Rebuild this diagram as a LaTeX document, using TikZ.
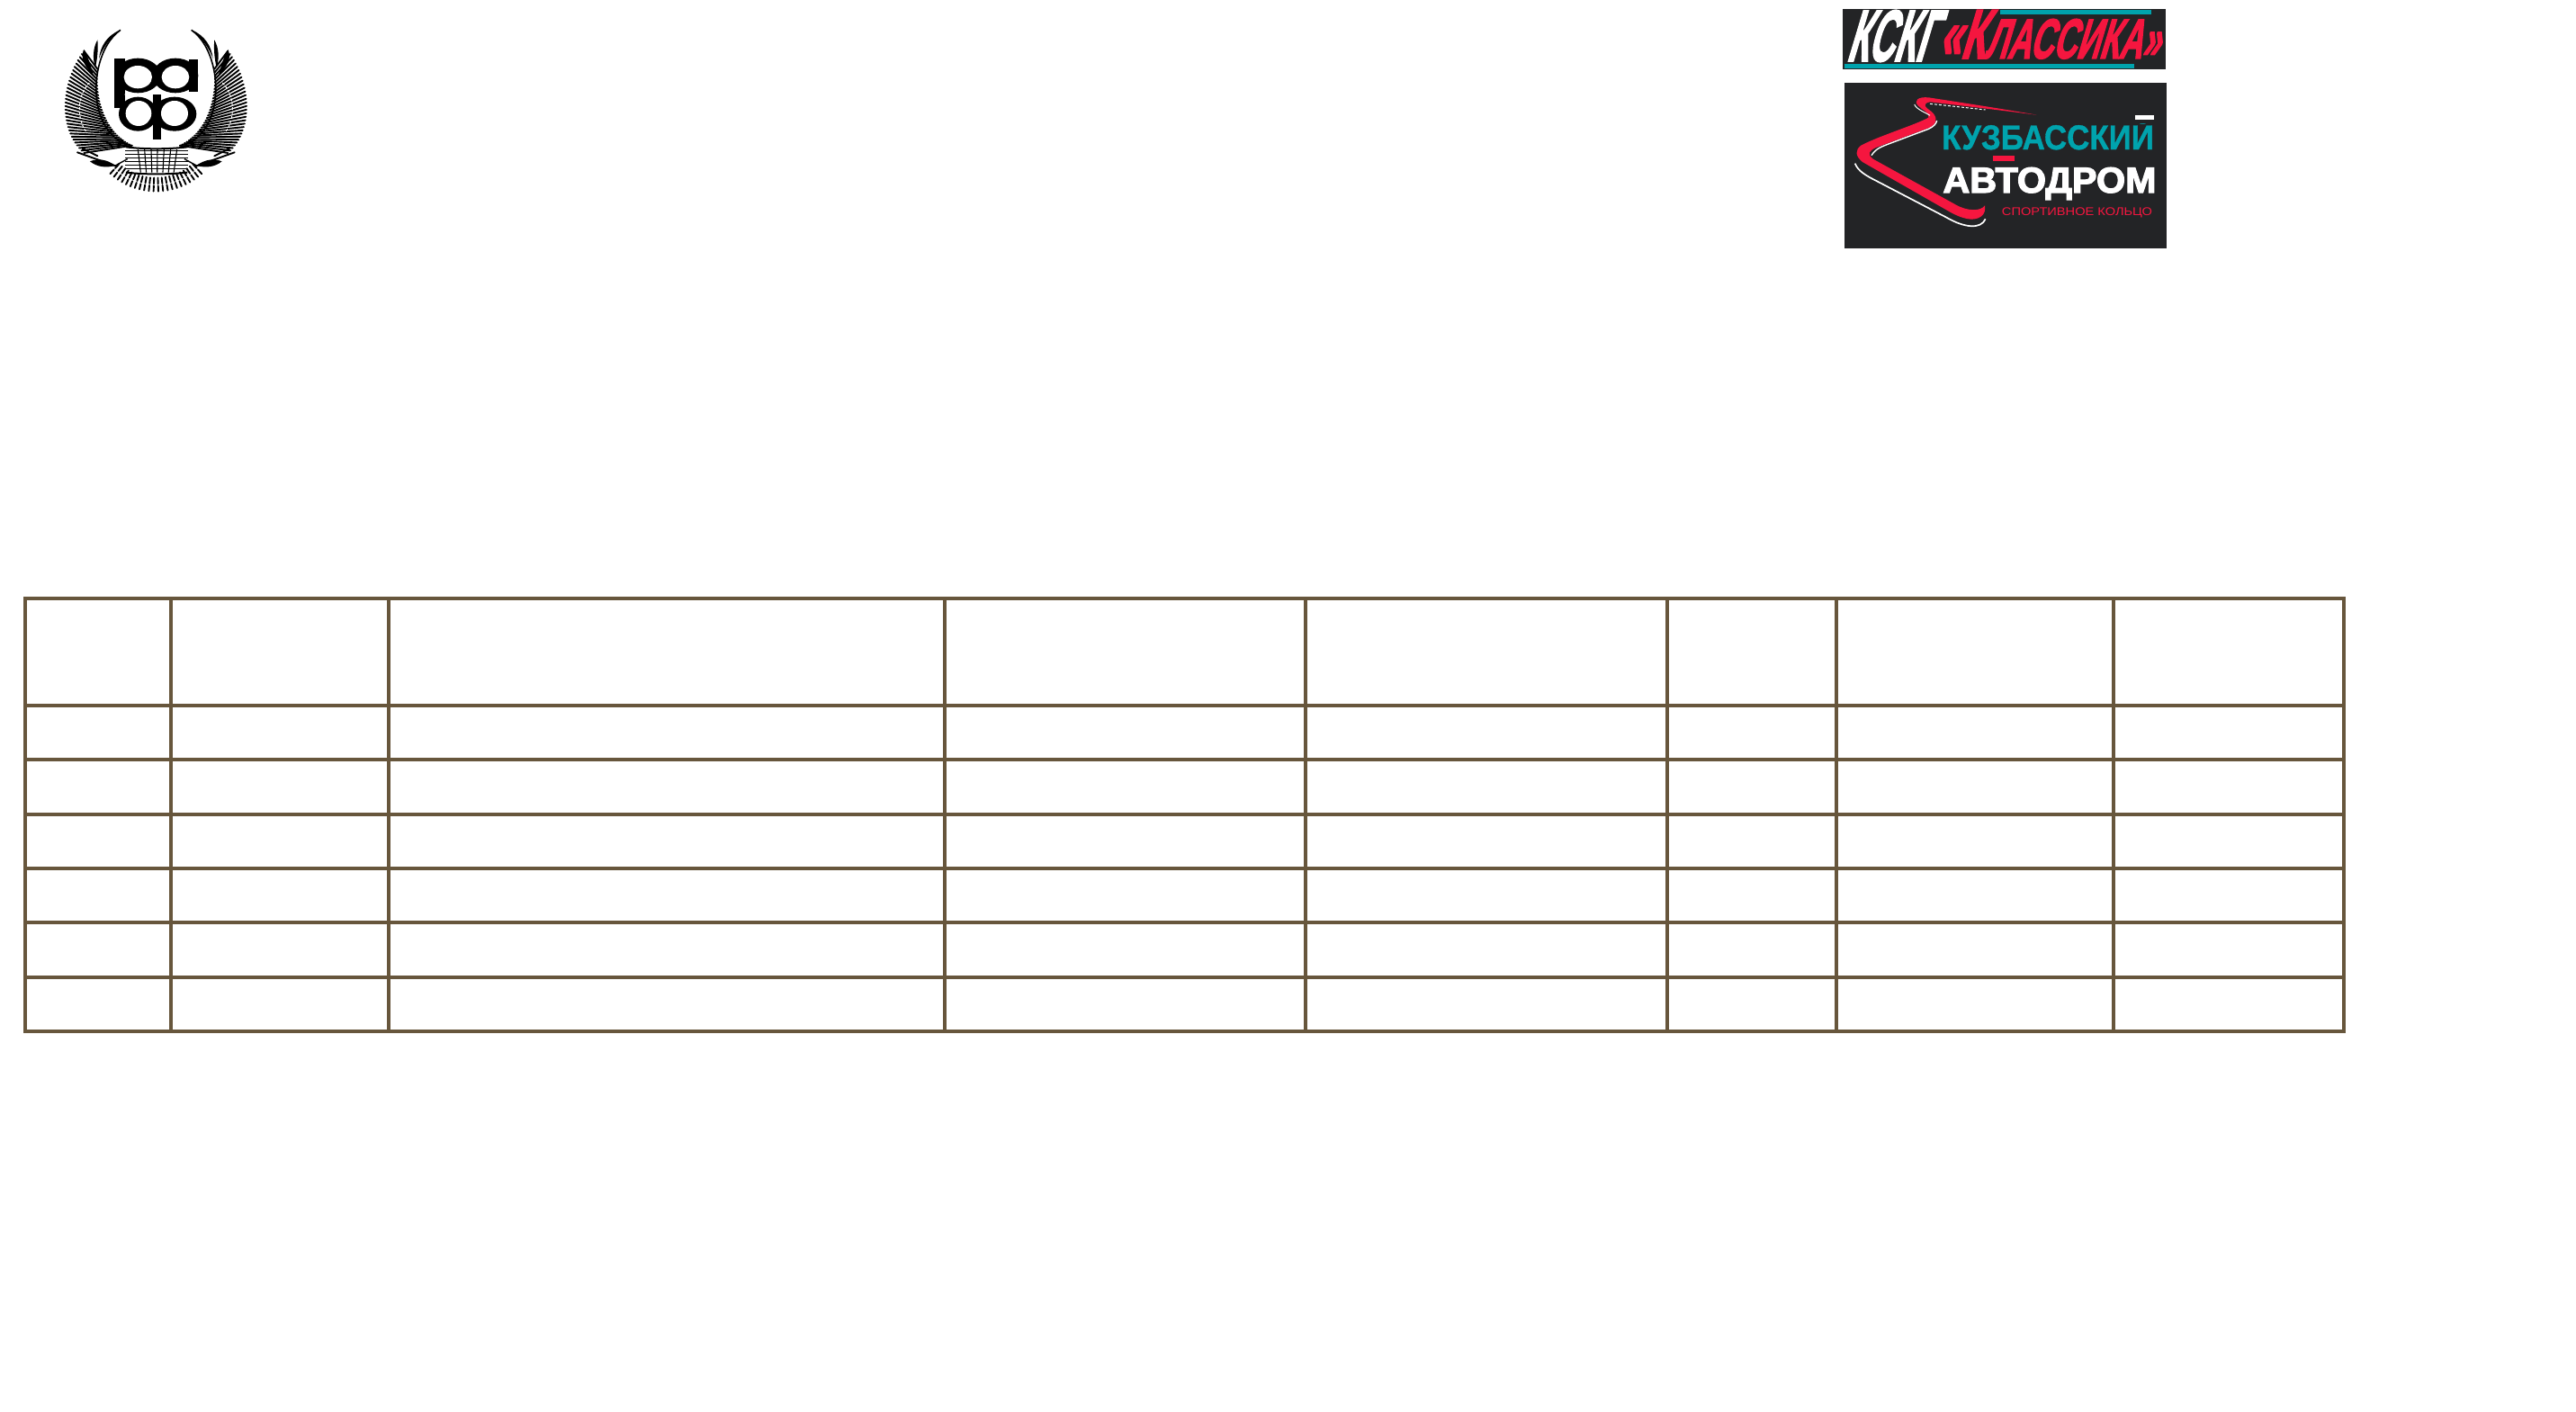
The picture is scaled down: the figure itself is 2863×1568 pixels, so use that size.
\documentclass[tikz,border=0pt]{standalone}
\usepackage{fontspec}
\setmainfont{Liberation Sans}
\newfontface\heavyface{Liberation Sans Bold}[FakeBold=3]
\newfontface\semiface{Liberation Sans Bold}[FakeBold=1]
\definecolor{gridbrown}{HTML}{67563C}
\definecolor{logodark}{HTML}{232426}
\definecolor{logored}{HTML}{F5163F}
\definecolor{logoteal}{HTML}{00A3AD}
\begin{document}
\begin{tikzpicture}[x=1pt,y=-1pt,
  gridline/.style={gridbrown,line width=4pt,line cap=rect},
  feather/.style={black,line width=1.9pt,line cap=round},
  fan/.style={black,line width=1.9pt,line cap=round},
  logotxt/.style={inner sep=0pt,anchor=center},
  basetxt/.style={inner sep=0pt,anchor=base}]
\useasboundingbox (0,0) rectangle (2863,1568);
\fill[white] (0,0) rectangle (2863,1568);
% table
\foreach \xx in {28,190,432,1049.5,1451,1853,2041,2349,2605}
  \draw[gridline] (\xx,665) -- (\xx,1146);
\foreach \yy in {665,783.5,844,904.5,965,1025,1086,1146}
  \draw[gridline] (28,\yy) -- (2605,\yy);
% emblem: coordinates in thirds of a pixel, mirrored about x=400
\begin{scope}[shift={(40,10)},x=0.3333pt,y=-0.3333pt]
  \foreach \s in {-1,1}{
  \begin{scope}[shift={(400,0)},xscale=\s]
    % wing feathers between two cubic curves
    \foreach \a in {0,...,31}{
      \pgfmathsetmacro{\t}{\a/31}
      \pgfmathsetmacro{\u}{1-\t}
      \pgfmathsetmacro{\bA}{\u*\u*\u}
      \pgfmathsetmacro{\bB}{3*\u*\u*\t}
      \pgfmathsetmacro{\bC}{3*\u*\t*\t}
      \pgfmathsetmacro{\bD}{\t*\t*\t}
      \pgfmathsetmacro{\ox}{\bA*(-240)+\bB*(-315)+\bC*(-330)+\bD*(-240)}
      \pgfmathsetmacro{\oy}{\bA*140+\bB*240+\bC*400+\bD*480}
      \pgfmathsetmacro{\ix}{\bA*(-195)+\bB*(-205)+\bC*(-160)+\bD*(-80)}
      \pgfmathsetmacro{\iy}{\bA*200+\bB*320+\bC*420+\bD*455}
      \draw[feather] (\ox,\oy) -- (\ix,\iy);
    }
    % white vein over the feathers
    \draw[white,line width=1pt,densely dashed] (-222,246) .. controls (-265,290) and (-265,370) .. (-229,414);
    % long plumes at the top of the wreath
    \fill[black] (-120,70) .. controls (-165,90) and (-185,125) .. (-190,165) .. controls (-175,125) and (-150,95) .. cycle;
    \fill[black] (-195,103) .. controls (-210,130) and (-212,165) .. (-202,195) .. controls (-195,165) and (-192,130) .. cycle;
    \fill[black] (-240,135) .. controls (-255,165) and (-235,195) .. (-208,222) .. controls (-218,190) and (-225,160) .. cycle;
    % inner arc of the wreath
    \draw[black,line width=1.6pt] (-118,70) .. controls (-190,120) and (-215,250) .. (-190,340) .. controls (-170,410) and (-130,445) .. (-78,456);
    % ribbon ends
    \draw[feather] (-262,478) -- (-130,525);
    \draw[feather] (-245,465) -- (-195,490);
    \fill[black] (-135,522) .. controls (-165,500) and (-195,498) .. (-220,508) .. controls (-195,528) and (-165,530) .. cycle;
    \draw[black,line width=1.4pt] (-135,522) -- (-95,500);
    % bottom fan, two rows
    \foreach \a in {2,6,...,42}{
      \pgfmathsetmacro{\ca}{cos(\a)}
      \pgfmathsetmacro{\sa}{sin(\a)}
      \draw[fan] ({-183*\sa},{380+183*\ca}) -- ({-203*\sa},{380+203*\ca});
      \draw[fan] ({-209*\sa},{380+209*\ca}) -- ({-228*\sa},{380+228*\ca});
    }
  \end{scope}}
  % central bands
  \foreach \yy in {472,484,496,508,520,532}
    \draw[black,line width=1.5pt] (298,\yy) -- (508,\yy);
  \foreach \xx in {340,362,384,405,427,449,470}
    \draw[black,line width=1.1pt] (\xx,468) -- ({400+(\xx-400)*.85},545);
  \draw[black,line width=2pt] (300,460) .. controls (360,468) and (440,468) .. (505,460);
  \draw[black,line width=2pt] (300,545) .. controls (360,552) and (440,552) .. (505,545);
  % letters
  \fill[black] (340,222) ellipse (76 and 58);
  \fill[black] (465,222) ellipse (76 and 58);
  \fill[black] (340,350) ellipse (64 and 57);
  \fill[black] (462,350) ellipse (73 and 57);
  \fill[black] (262,165) rectangle (296,330);
  \fill[black] (510,168) rectangle (540,275);
  \fill[black] (390,285) rectangle (418,435);
  \fill[white] (340,227) ellipse (47 and 38);
  \fill[white] (465,227) ellipse (46 and 38);
  \fill[white] (342,348) ellipse (43 and 42);
  \fill[white] (462,348) ellipse (45 and 42);
  \fill[white] (295,285) -- (304,278) -- (304,292) -- cycle;
  \fill[white] (400,262) -- (410,276) -- (390,276) -- cycle;
  \fill[white] (420,285) -- (437,279) -- (437,291) -- cycle;
  \fill[white] (378,285) -- (361,279) -- (361,291) -- cycle;
\end{scope}
% KSKG logo
\fill[logodark] (2048,10) rectangle (2407,77);
\fill[logoteal] (2223,11) rectangle (2391,16);
\fill[logoteal] (2050,71) rectangle (2372,76);
\node[logotxt,white,xslant=0.3] (ksk) at (2233.5,40) {\resizebox{98pt}{56pt}{\heavyface КСКГ}\kern3pt\raisebox{3pt}{\color{logored}\resizebox{246pt}{53pt}{\heavyface\fontsize{46pt}{46pt}\selectfont «К\fontsize{37pt}{37pt}\selectfont ЛАССИКА»}}};
% Avtodrom logo
\fill[logodark] (2050,92) rectangle (2408,276);
\begin{scope}[shift={(2030,0)},x=0.3333pt,y=-0.3333pt]
  \fill[logored] (700,383) .. controls (600,365) and (450,342) .. (340,325)
    .. controls (305,322) and (290,335) .. (305,352)
    .. controls (320,368) and (345,375) .. (340,392)
    .. controls (300,415) and (170,455) .. (115,485)
    .. controls (95,500) and (95,520) .. (120,540)
    -- (400,700)
    .. controls (450,730) and (490,740) .. (515,722)
    .. controls (528,712) and (530,700) .. (528,685)
    .. controls (515,705) and (470,705) .. (430,682)
    -- (155,530)
    .. controls (135,515) and (140,503) .. (165,492)
    -- (345,425)
    .. controls (370,410) and (370,390) .. (350,372)
    .. controls (325,355) and (320,345) .. (345,340)
    .. controls (450,352) and (600,370) .. cycle;
  \draw[white,line width=1.7pt] (95,545) .. controls (105,570) and (130,585) .. (170,605) -- (400,725) .. controls (460,760) and (515,765) .. (530,730);
  \draw[white,line width=1.4pt] (150,518) .. controls (165,495) and (180,490) .. (220,475) -- (340,430) .. controls (358,422) and (366,412) .. (368,402);
  \draw[white,line width=1pt] (293,348) .. controls (300,365) and (330,375) .. (345,385);
  \draw[white,line width=1pt,densely dashed] (345,346) -- (530,366);
\end{scope}
\begin{scope}
  \clip (2150,137.5) rectangle (2400,172);
  \node[basetxt,logoteal,xscale=0.907] (kuz) at (2276,166) {\semiface\fontsize{38.5pt}{38.5pt}\selectfont КУЗБАССКИЙ};
\end{scope}
\fill[white] (2373,128) rectangle (2394,133);
\fill[logored] (2215,173) rectangle (2239,179);
\node[basetxt,white,xscale=1.034] (avt) at (2278,214) {\heavyface\fontsize{40pt}{40pt}\selectfont АВТОДРОМ};
\node[basetxt,logored,xscale=1.17] (spo) at (2308.5,239) {\fontsize{12.5pt}{12.5pt}\selectfont СПОРТИВНОЕ КОЛЬЦО};
\end{tikzpicture}
\end{document}
